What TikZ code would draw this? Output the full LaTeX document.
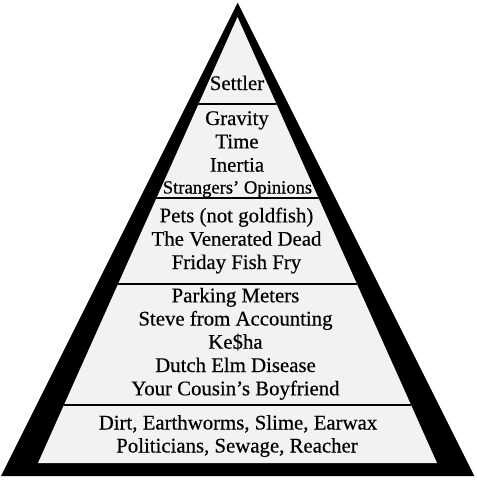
\documentclass[tikz,border=0pt]{standalone}
\usepackage{fontspec}
\setmainfont{Liberation Serif}[FakeBold=0.4]
\definecolor{tierfill}{RGB}{242,242,242}
\tikzset{
  lbl/.style={anchor=base, inner sep=0pt, font=\fontsize{20.8}{23.3}\selectfont},
  lblsmall/.style={anchor=base, inner sep=0pt, font=\fontsize{18.6}{21}\selectfont},
  divider/.style={line width=2pt, black}
}
\begin{document}
\begin{tikzpicture}[x=1pt,y=-1pt]
\useasboundingbox (0,0) rectangle (477,480);
% outer black triangle
\coordinate (oa) at (237.7,2.7);
\coordinate (ol) at (1.1,476);
\coordinate (or) at (474.3,476);
\fill[black] (oa) -- (ol) -- (or) -- cycle;
% inner light triangle
\coordinate (ia) at (237.5,17);
\coordinate (il) at (38,463);
\coordinate (ir) at (437,463);
\fill[tierfill] (ia) -- (il) -- (ir) -- cycle;
% dividers
\begin{scope}
\clip (ia) -- (il) -- (ir) -- cycle;
\draw[divider] (0,103.5) -- (477,103.5);
\draw[divider] (0,198.3) -- (477,198.3);
\draw[divider] (0,283.8) -- (477,283.8);
\draw[divider] (0,405) -- (477,405);
\end{scope}
% tier 1
\node[lbl] (t1a) at (237,90) {Settler};
% tier 2
\node[lbl] (t2a) at (237,125) {Gravity};
\node[lbl] (t2b) at (237,148.3) {Time};
\node[lbl] (t2c) at (237,171.7) {Inertia};
\node[lblsmall] (t2d) at (237.5,193.5) {Strangers’ Opinions};
% tier 3
\node[lbl] (t3a) at (236.5,222.3) {Pets (not goldfish)};
\node[lbl] (t3b) at (236.5,245.7) {The Venerated Dead};
\node[lbl] (t3c) at (236.5,269) {Friday Fish Fry};
% tier 4
\node[lbl] (t4a) at (235.5,302.3) {Parking Meters};
\node[lbl] (t4b) at (235.5,325.5) {Steve from Accounting};
\node[lbl] (t4c) at (235.5,348.7) {Ke\$ha};
\node[lbl] (t4d) at (235.5,372) {Dutch Elm Disease};
\node[lbl] (t4e) at (235.5,395.3) {Your Cousin’s Boyfriend};
% tier 5
\node[lbl] (t5a) at (238,429.5) {Dirt, Earthworms, Slime, Earwax};
\node[lbl] (t5b) at (237,452.5) {Politicians, Sewage, Reacher};
\end{tikzpicture}
\end{document}
